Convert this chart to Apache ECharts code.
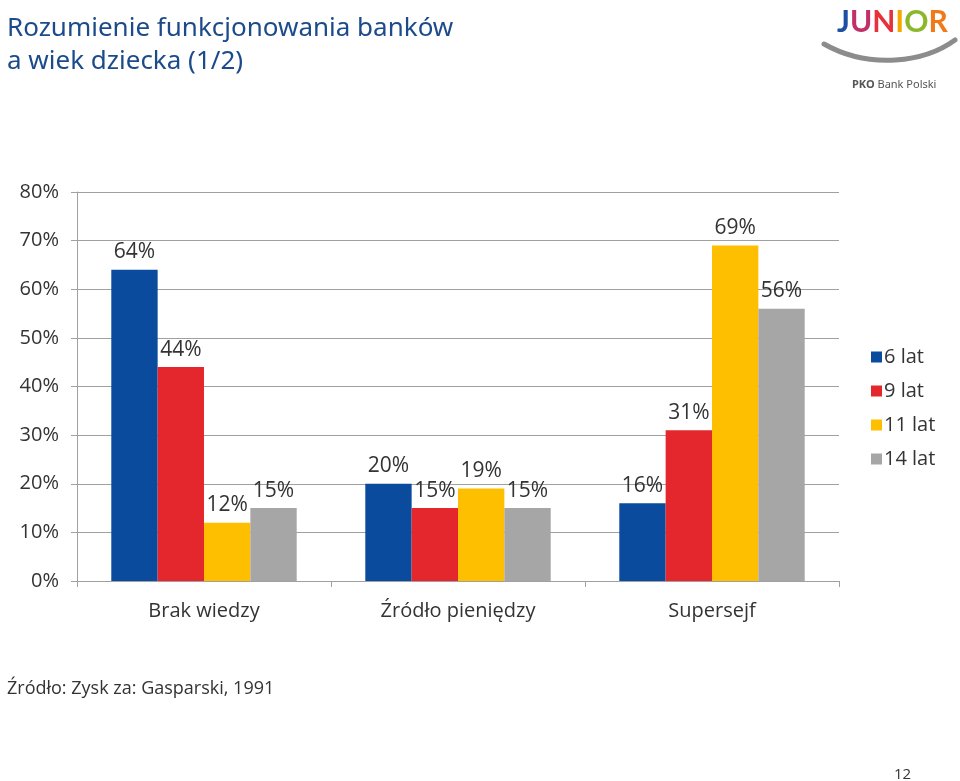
<!DOCTYPE html>
<html>
<head>
<meta charset="utf-8">
<script src="https://cdn.jsdelivr.net/npm/echarts@6/dist/echarts.min.js"></script>
<style>
  html, body { margin: 0; padding: 0; background: #fff; }
  #chart { width: 960px; height: 781px; }
</style>
</head>
<body>
<div id="chart"></div>
<script>
// dane z wykresu
const categories = ['Brak wiedzy', 'Źródło pieniędzy', 'Supersejf'];
const seriesNames = ['6 lat', '9 lat', '11 lat', '14 lat'];
const values6 = [64, 20, 16];
const values9 = [44, 15, 31];
const values11 = [12, 19, 69];
const values14 = [15, 15, 56];
const yTicks = [0, 10, 20, 30, 40, 50, 60, 70, 80];

const colors = ['#0a4b9e', '#e4262d', '#fdbf00', '#a6a6a6'];
const font = 'Open Sans';

let chart = echarts.init(document.getElementById('chart'));

// wspolna konfiguracja serii
function makeSeries (name, data, color) {
  return {
    name: name,
    type: 'bar',
    data: data,
    barGap: 0,
    barCategoryGap: '27%',
    itemStyle: { color: color },
    label: {
      show: true,
      position: 'top',
      distance: 7,
      formatter: '{c}%',
      fontFamily: font,
      fontSize: 21,
      color: '#333'
    }
  };
}

let option = {
  animation: false,
  title: [{
    text: 'Rozumienie funkcjonowania banków\na wiek dziecka (1/2)',
    left: 2,
    top: 7,
    textStyle: {
      fontFamily: 'Noto Sans',
      fontSize: 26,
      fontWeight: 'normal',
      color: '#1c4b8b',
      lineHeight: 33
    }
  }, {
    text: 'Źródło: Zysk za: Gasparski, 1991',
    left: 2,
    top: 675,
    textStyle: { fontFamily: font, fontSize: 18, fontWeight: 'normal', color: '#333' }
  }, {
    text: '12',
    left: 889,
    top: 762,
    textStyle: { fontFamily: font, fontSize: 15, fontWeight: 'normal', color: '#333' }
  }, {
    // logo
    text: '{j|J}{u|U}{n|N}{i|I}{o|O}{r|R}',
    left: 832,
    top: 2,
    textStyle: {
      rich: {
        j: { fontFamily: 'Lato', fontSize: 30, fontWeight: 'bold', color: '#1d4fa5' },
        u: { fontFamily: 'Lato', fontSize: 30, fontWeight: 'bold', color: '#c2306a' },
        n: { fontFamily: 'Lato', fontSize: 30, fontWeight: 'bold', color: '#e8303a' },
        i: { fontFamily: 'Lato', fontSize: 30, fontWeight: 'bold', color: '#f4a800' },
        o: { fontFamily: 'Lato', fontSize: 30, fontWeight: 'bold', color: '#8ab82a' },
        r: { fontFamily: 'Lato', fontSize: 30, fontWeight: 'bold', color: '#f07a1a' }
      }
    }
  }, {
    text: '{b|PKO} Bank Polski',
    left: 847,
    top: 74,
    textStyle: {
      fontFamily: 'Noto Sans',
      fontSize: 11,
      fontWeight: 'normal',
      color: '#555',
      rich: { b: { fontFamily: 'Noto Sans', fontSize: 11, fontWeight: 'bold', color: '#555' } }
    }
  }],
  graphic: [{
    type: 'bezierCurve',
    shape: { x1: 824, y1: 44, x2: 955, y2: 40, cpx1: 870, cpy1: 70, cpx2: 925, cpy2: 62 },
    style: { stroke: '#8c8c8c', lineWidth: 5, fill: null, lineCap: 'round' }
  }],
  legend: {
    orient: 'vertical',
    left: 866,
    top: 342,
    itemWidth: 11,
    itemHeight: 11,
    itemGap: 14,
    icon: 'rect',
    textStyle: { fontFamily: font, fontSize: 20, color: '#333', padding: [0, 0, 0, -3] },
    data: seriesNames
  },
  grid: {
    left: 77,
    right: 121,
    top: 192,
    bottom: 200
  },
  xAxis: {
    type: 'category',
    data: categories,
    axisLine: { lineStyle: { color: '#a0a0a0', width: 1 } },
    axisTick: { show: true, length: 6, lineStyle: { color: '#a0a0a0' } },
    axisLabel: { fontFamily: font, fontSize: 20, color: '#333', margin: 20 }
  },
  yAxis: {
    type: 'value',
    min: yTicks[0],
    max: yTicks[yTicks.length - 1],
    interval: 10,
    axisLine: { show: true, lineStyle: { color: '#a0a0a0', width: 1 } },
    axisTick: { show: true, length: 6, lineStyle: { color: '#a0a0a0' } },
    splitLine: { lineStyle: { color: '#a0a0a0', width: 1 } },
    axisLabel: { formatter: '{value}%', fontFamily: font, fontSize: 20, color: '#333', margin: 18 }
  },
  series: [
    makeSeries(seriesNames[0], values6, colors[0]),
    makeSeries(seriesNames[1], values9, colors[1]),
    makeSeries(seriesNames[2], values11, colors[2]),
    makeSeries(seriesNames[3], values14, colors[3])
  ]
};

chart.setOption(option);
window.addEventListener('resize', () => {
  chart.resize();
});
</script>
</body>
</html>
